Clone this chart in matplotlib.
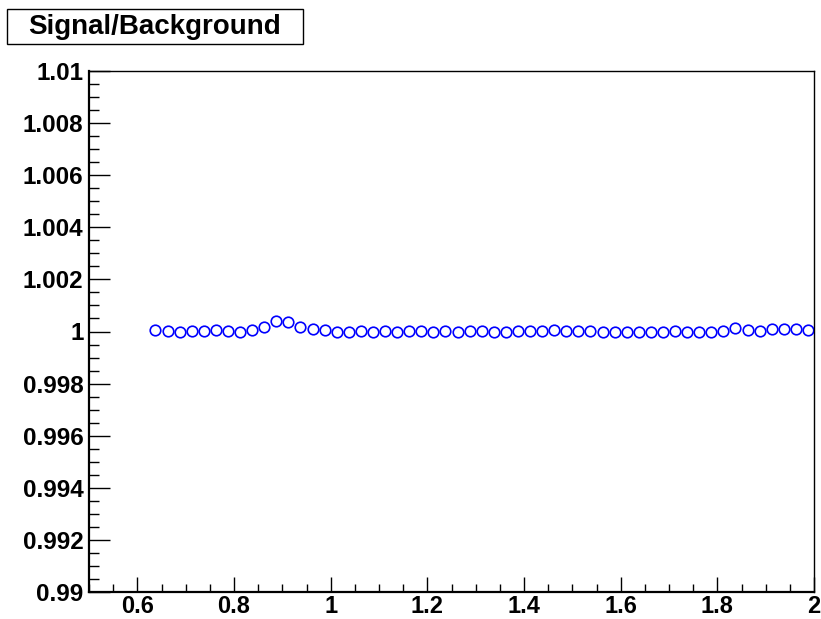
import numpy as np
import matplotlib
matplotlib.use('Agg')
from matplotlib import pyplot as plt
from matplotlib.ticker import MultipleLocator, FuncFormatter
from matplotlib.patches import Rectangle

plt.rcParams['font.family'] = ['Liberation Sans', 'DejaVu Sans']
plt.rcParams['font.weight'] = 'bold'

# bin centres (width 0.025) and signal/background ratio per bin
bin_lo = 0.625
bin_width = 0.025
ratio = [
    1.00006, 1.00003, 0.99998, 1.00002, 1.00003, 1.00006, 1.00002, 0.99999,
    1.00006, 1.00016, 1.00042, 1.00037, 1.00018, 1.00010, 1.00005, 0.99998,
    0.99998, 1.00001, 0.99999, 1.00002, 0.99997, 1.00002, 1.00002, 0.99999,
    1.00002, 0.99999, 1.00002, 1.00002, 0.99997, 0.99997, 1.00002, 1.00002,
    1.00002, 1.00006, 1.00002, 1.00002, 1.00002, 0.99997, 0.99997, 0.99997,
    0.99997, 0.99997, 0.99997, 1.00002, 0.99997, 0.99997, 0.99999, 1.00002,
    1.00012, 1.00006, 1.00002, 1.00010, 1.00008, 1.00008, 1.00006,
]
x_centres = bin_lo + bin_width * (np.arange(len(ratio)) + 0.5)

title = 'Signal/Background'

fig = plt.figure(figsize=(8.21, 6.19), dpi=100)
ax = fig.add_axes([89 / 821, 1 - 592 / 619, (814 - 89) / 821, (592 - 71) / 619])

ax.plot(x_centres, ratio, linestyle='none', marker='o', ms=7.6,
        mfc='none', mec='#0000ff', mew=1.2, clip_on=False)

ax.set_xlim(0.5, 2.0)
ax.set_ylim(0.99, 1.01)

ax.xaxis.set_major_locator(MultipleLocator(0.2))
ax.xaxis.set_minor_locator(MultipleLocator(0.05))
ax.yaxis.set_major_locator(MultipleLocator(0.002))
ax.yaxis.set_minor_locator(MultipleLocator(0.0005))
fmt = FuncFormatter(lambda v, pos: '{:g}'.format(round(v, 4)))
ax.xaxis.set_major_formatter(fmt)
ax.yaxis.set_major_formatter(fmt)

ax.tick_params(axis='x', which='major', direction='in', length=11, width=1,
               labelsize=17, pad=2.5, top=False)
ax.tick_params(axis='x', which='minor', direction='in', length=5.8, width=1, top=False)
ax.tick_params(axis='y', which='major', direction='in', length=15, width=1,
               labelsize=17.5, pad=4, right=False)
ax.tick_params(axis='y', which='minor', direction='in', length=7.2, width=1, right=False)
for lab in ax.get_xticklabels() + ax.get_yticklabels():
    lab.set_fontweight('bold')

for side in ['top', 'right']:
    ax.spines[side].set_linewidth(1.0)
for side in ['bottom', 'left']:
    ax.spines[side].set_linewidth(1.6)

# title box in the upper left corner
fig.patches.append(Rectangle((7 / 821, 1 - 44 / 619), 296 / 821, 35 / 619,
                             transform=fig.transFigure, facecolor='white',
                             edgecolor='black', linewidth=1.0))
fig.text(155 / 821, 1 - 27 / 619, title, ha='center', va='center',
         fontsize=20, fontweight='bold')

fig.savefig('out.png', dpi=100)
